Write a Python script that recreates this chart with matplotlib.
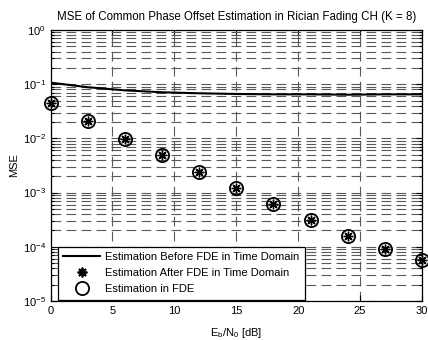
import numpy as np
import matplotlib
matplotlib.use("Agg")
import matplotlib.pyplot as plt
from matplotlib.lines import Line2D
from matplotlib.ticker import LogLocator, NullFormatter, FixedLocator

plt.rcParams["font.family"] = ["Liberation Sans", "DejaVu Sans"]
plt.rcParams["mathtext.fontset"] = "custom"
plt.rcParams["mathtext.rm"] = "Liberation Sans"
plt.rcParams["mathtext.it"] = "Liberation Sans:italic"
plt.rcParams["mathtext.default"] = "regular"
plt.rcParams["lines.scale_dashes"] = False

EBN0_DB = [0, 3, 6, 9, 12, 15, 18, 21, 24, 27, 30]
MSE_BEFORE_FDE = [0.107, 0.088, 0.077, 0.071, 0.068, 0.066, 0.065, 0.065, 0.064, 0.065, 0.065]
MSE_AFTER_FDE = [0.0444, 0.0209, 0.0096, 0.00494, 0.00243, 0.0012, 6.16e-4, 3.12e-4, 1.6e-4, 9.1e-5, 5.7e-5]
MSE_IN_FDE = [0.0444, 0.0209, 0.0096, 0.00494, 0.00243, 0.0012, 6.16e-4, 3.12e-4, 1.6e-4, 9.1e-5, 5.7e-5]

TITLE = "MSE of Common Phase Offset Estimation in Rician Fading CH (K = 8)"
LEGEND_LABELS = [
    "Estimation Before FDE in Time Domain",
    "Estimation After FDE in Time Domain",
    "Estimation in FDE",
]
OUTPUT_PATH = "out.png"
FIG_DPI = 100
FIGSIZE = (4.28, 3.40)
GRID_DASH = (0, (7.0, 3.8))
ASTERISK = (8, 2, 0)


def make_plot():
    fig = plt.figure(figsize=FIGSIZE, dpi=FIG_DPI)
    ax = fig.add_axes([50.5 / 428, 1 - 301 / 340, 371.5 / 428, 271 / 340])

    ax.set_yscale("log")
    ax.set_xlim(0, 30)
    ax.set_ylim(1e-5, 1)

    ax.plot(EBN0_DB, MSE_BEFORE_FDE, color="black", lw=1.5, zorder=3)
    ax.plot(EBN0_DB, MSE_AFTER_FDE, ls="none", marker=ASTERISK, ms=7, color="black",
            markeredgewidth=1.0, zorder=4, clip_on=False)
    ax.plot(EBN0_DB, MSE_IN_FDE, ls="none", marker="o", ms=9.5, mfc="none",
            mec="black", markeredgewidth=1.3, zorder=4, clip_on=False)

    ax.xaxis.set_major_locator(FixedLocator(np.arange(0, 31, 5)))
    ax.yaxis.set_major_locator(LogLocator(base=10, numticks=10))
    ax.yaxis.set_minor_locator(LogLocator(base=10, subs=np.arange(2, 10), numticks=10))
    ax.yaxis.set_minor_formatter(NullFormatter())

    ax.grid(True, which="major", axis="x", color="0.35", lw=0.8, ls=GRID_DASH)
    ax.grid(True, which="both", axis="y", color="0.35", lw=0.8, ls=GRID_DASH)
    ax.set_axisbelow(True)

    ax.tick_params(which="both", direction="in", top=True, right=True, labelsize=8,
                   width=0.8, color="black")
    ax.tick_params(which="major", length=4)
    ax.tick_params(which="minor", length=2.5)
    for s in ax.spines.values():
        s.set_linewidth(0.9)

    ax.set_title(TITLE, fontsize=8.3, pad=7)
    ax.set_xlabel("E$_b$/N$_0$ [dB]", fontsize=8, labelpad=7)
    ax.set_ylabel("MSE", fontsize=8, labelpad=2.5)

    handles = [
        Line2D([], [], color="black", lw=1.5),
        Line2D([], [], ls="none", marker=ASTERISK, ms=7, color="black", markeredgewidth=1.3),
        Line2D([], [], ls="none", marker="o", ms=9.5, mfc="none", mec="black",
               markeredgewidth=1.3),
    ]
    leg = ax.legend(handles, LEGEND_LABELS, loc="lower left", bbox_to_anchor=(0.017, 0.0),
                    borderaxespad=0.1, fontsize=8, frameon=True, fancybox=False,
                    framealpha=1, edgecolor="black", handlelength=3.3, handletextpad=0.45,
                    labelspacing=0.55, borderpad=0.5)
    leg.get_frame().set_linewidth(0.9)
    leg.set_zorder(5)

    fig.savefig(OUTPUT_PATH, dpi=FIG_DPI)


if __name__ == "__main__":
    make_plot()
